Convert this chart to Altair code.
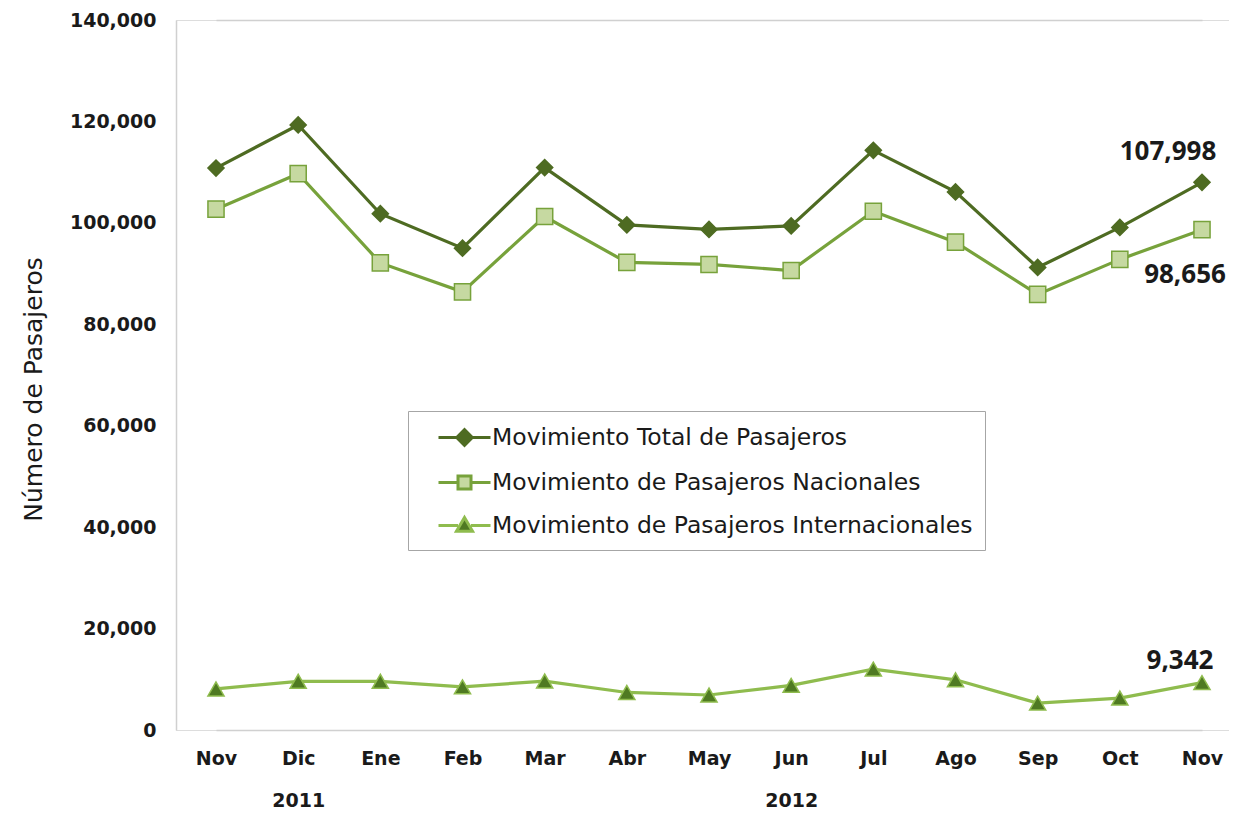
import altair as alt
import pandas as pd

months = ["Nov", "Dic", "Ene", "Feb", "Mar", "Abr", "May", "Jun", "Jul", "Ago", "Sep", "Oct", "Nov"]
years = ["2011", "2011", "2012", "2012", "2012", "2012", "2012", "2012", "2012", "2012", "2012", "2012", "2012"]
year_shown = ["", "2011", "", "", "", "", "", "2012", "", "", "", "", ""]

total = [110800, 119300, 101800, 95000, 110900, 99600, 98700, 99400, 114300, 106100, 91200, 99100, 107998]
nacional = [102700, 109700, 92100, 86400, 101250, 92200, 91800, 90600, 102300, 96200, 85900, 92800, 98656]
internacional = [8100, 9600, 9600, 8500, 9650, 7400, 6900, 8800, 12000, 9900, 5300, 6300, 9342]

series = [
    "Movimiento Total de Pasajeros",
    "Movimiento de Pasajeros Nacionales",
    "Movimiento de Pasajeros Internacionales",
]
line_colors = ["#4e6b22", "#77a23b", "#8fbc4e"]
fill_colors = ["#4e6b22", "#c6d9a1", "#4f7a22"]
shapes = ["diamond", "square", "triangle-up"]
legend_paths = [
    "M-2,0H2M-0.6,0L0,-0.6L0.6,0L0,0.6Z",
    "M-2,0H-0.5M0.5,0H2M-0.5,-0.5H0.5V0.5H-0.5Z",
    "M-2,0H-0.5M0.5,0H2M0,-0.62L0.62,0.45H-0.62Z",
]

keys = [f"{m} {y}" for m, y in zip(months, years)]
rows = []
for s, vals in zip(series, [total, nacional, internacional]):
    for k, v in zip(keys, vals):
        rows.append({"key": k, "serie": s, "value": v})
df = pd.DataFrame(rows)
legend_df = pd.DataFrame({"serie": series})

# axis label expression (month, plus year on a second line)
parts = []
for k, m, yl in zip(keys, months, year_shown):
    if yl:
        parts.append(f"datum.value == '{k}' ? ['{m}', '{yl}']")
    else:
        parts.append(f"datum.value == '{k}' ? '{m}'")
label_expr = " : ".join(parts) + " : datum.value"

x_enc = alt.X(
    "key:N",
    sort=keys,
    scale=alt.Scale(range=[40, 1026], padding=0),
    axis=alt.Axis(
        title=None,
        labelExpr=label_expr,
        labelAngle=0,
        labelFont="DejaVu Sans",
        labelFontWeight="bold",
        labelFontSize=19,
        labelColor="#1a1a1a",
        labelPadding=19,
        labelLineHeight=42,
        labelBaseline="top",
        ticks=False,
        domainColor="#d0d0d0",
        domainWidth=1.5,
    ),
)
y_enc = alt.Y(
    "value:Q",
    scale=alt.Scale(domain=[0, 140000]),
    axis=alt.Axis(
        title="Número de Pasajeros",
        values=[0, 20000, 40000, 60000, 80000, 100000, 120000, 140000],
        format=",d",
        labelFont="DejaVu Sans",
        labelFontWeight="bold",
        labelFontSize=19,
        labelColor="#1a1a1a",
        labelPadding=20,
        ticks=False,
        domainColor="#d0d0d0",
        domainWidth=1.5,
        grid=True,
        gridColor="#d0d0d0",
        gridWidth=1.5,
        gridOpacity=alt.condition("datum.value == 140000", alt.value(1), alt.value(0)),
        titleFont="DejaVu Sans",
        titleFontSize=25,
        titleFontWeight="normal",
        titleColor="#1a1a1a",
        titleX=-130,
        titleY=369,
        titleAngle=270,
    ),
)

base = alt.Chart(df)

lines = base.mark_line(strokeWidth=3.2).encode(
    x=x_enc,
    y=y_enc,
    color=alt.Color("serie:N", scale=alt.Scale(domain=series, range=line_colors), legend=None),
)

points = base.mark_point(filled=True, opacity=1, strokeWidth=1.5).encode(
    x=x_enc,
    y=y_enc,
    shape=alt.Shape("serie:N", scale=alt.Scale(domain=series, range=shapes), legend=None),
    fill=alt.Fill("serie:N", scale=alt.Scale(domain=series, range=fill_colors), legend=None),
    stroke=alt.Stroke("serie:N", scale=alt.Scale(domain=series, range=line_colors), legend=None),
    size=alt.value(260),
)

legend_layer = alt.Chart(legend_df).mark_point(filled=True, opacity=0).encode(
    shape=alt.Shape(
        "serie:N",
        scale=alt.Scale(domain=series, range=legend_paths),
        legend=alt.Legend(
            title=None,
            orient="none",
            legendX=232,
            legendY=391,
            direction="vertical",
            padding=12,
            rowPadding=16,
            symbolSize=676,
            symbolOffset=30,
            symbolOpacity=1,
            symbolStrokeWidth=3,
            labelOffset=13,
            labelFont="DejaVu Sans",
            labelFontSize=23.5,
            labelColor="#1a1a1a",
            labelLimit=700,
            strokeColor="#a6a6a6",
            fillColor="white",
        ),
    ),
    fill=alt.Fill("serie:N", scale=alt.Scale(domain=series, range=fill_colors), legend=None),
    stroke=alt.Stroke("serie:N", scale=alt.Scale(domain=series, range=line_colors), legend=None),
)

last_key = keys[-1]
label_specs = [(series[0], -34, -30), (series[1], -17, 45), (series[2], -22, -22)]
texts = []
for s, dx, dy in label_specs:
    texts.append(
        base.transform_filter(
            (alt.datum.key == last_key) & (alt.datum.serie == s)
        ).mark_text(
            font="Open Sans", fontWeight="bold", fontSize=26, color="#1a1a1a",
            dx=dx, dy=dy, align="center", baseline="middle",
        ).encode(x=x_enc, y=y_enc, text=alt.Text("value:Q", format=",d"))
    )

chart = alt.layer(lines, points, legend_layer, *texts).resolve_scale(
    shape="independent", fill="independent", stroke="independent"
).properties(
    width=1053,
    height=710,
    autosize=alt.AutoSizeParams(type="none"),
    padding={"left": 168, "top": 12, "right": 0, "bottom": 80},
).configure_view(stroke=None).configure(background="white")

chart.save("out.html", embed_options={"renderer": "svg", "actions": False})
